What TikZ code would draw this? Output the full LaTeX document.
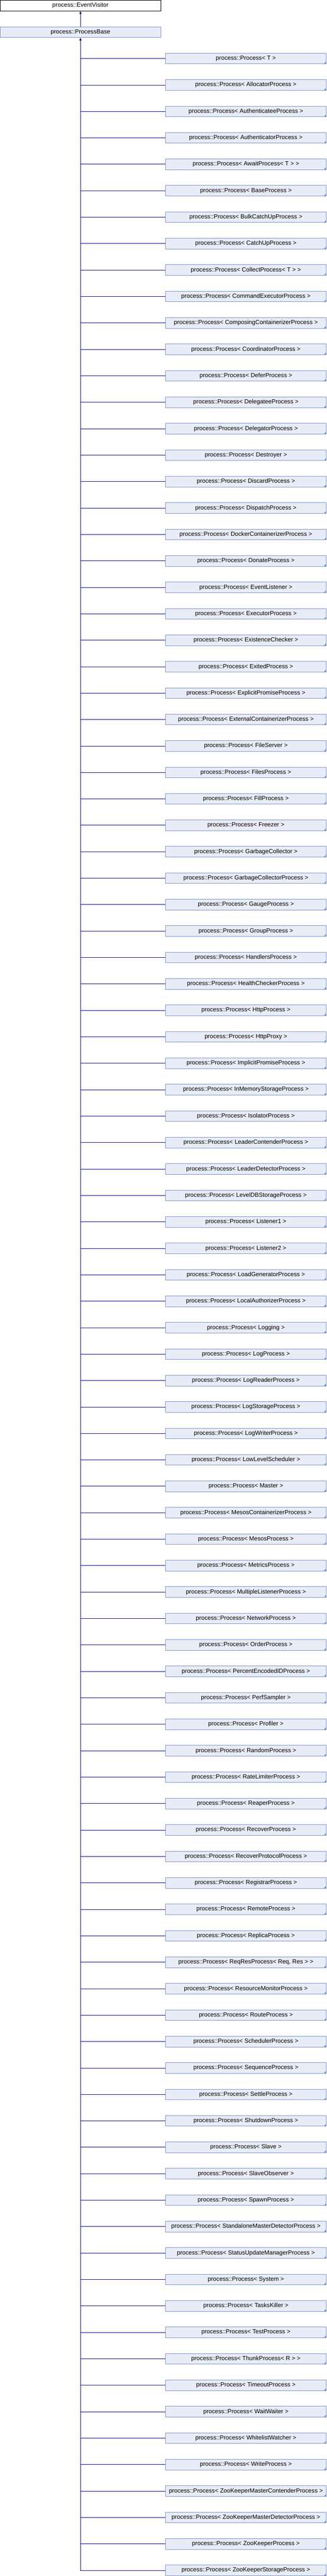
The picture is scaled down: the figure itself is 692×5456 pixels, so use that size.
\documentclass[tikz,border=0pt]{standalone}
\usepackage{fontspec}
\setmainfont{Liberation Sans}
\usetikzlibrary{arrows.meta}
\definecolor{boxfill}{HTML}{E8ECF6}
\definecolor{boxdraw}{HTML}{7F96CC}
\definecolor{linkcol}{HTML}{10108F}
\begin{document}
\begin{tikzpicture}[x=1pt,y=-1pt,
  cls/.style={draw=boxdraw, fill=boxfill, line width=1pt, minimum width=340pt,
    minimum height=22.5pt, inner sep=0pt, font=\fontsize{12.7}{14}\selectfont, text=black},
  topcls/.style={cls, draw=black, fill=white},
  link/.style={draw=linkcol, line width=1pt},
  inh/.style={link, -{Triangle[width=4.5pt,length=6pt]}}]
\useasboundingbox (0,0) rectangle (692,5456);
\fill[white] (0,0) rectangle (692,5456);
\node[topcls] (ev) at (170.5,11.75) {process::EventVisitor};
\node[cls] (pb) at (170.5,68) {process::ProcessBase};
\draw[inh] (pb.north) -- (ev.south);
\foreach \cname [count=\i from 0] in {
T,AllocatorProcess,AuthenticateeProcess,AuthenticatorProcess,{AwaitProcess< T >},
BaseProcess,BulkCatchUpProcess,CatchUpProcess,{CollectProcess< T >},CommandExecutorProcess,
ComposingContainerizerProcess,CoordinatorProcess,DeferProcess,DelegateeProcess,DelegatorProcess,
Destroyer,DiscardProcess,DispatchProcess,DockerContainerizerProcess,DonateProcess,
EventListener,ExecutorProcess,ExistenceChecker,ExitedProcess,ExplicitPromiseProcess,
ExternalContainerizerProcess,FileServer,FilesProcess,FillProcess,Freezer,
GarbageCollector,GarbageCollectorProcess,GaugeProcess,GroupProcess,HandlersProcess,
HealthCheckerProcess,HttpProcess,HttpProxy,ImplicitPromiseProcess,InMemoryStorageProcess,
IsolatorProcess,LeaderContenderProcess,LeaderDetectorProcess,LevelDBStorageProcess,Listener1,
Listener2,LoadGeneratorProcess,LocalAuthorizerProcess,Logging,LogProcess,
LogReaderProcess,LogStorageProcess,LogWriterProcess,LowLevelScheduler,Master,
MesosContainerizerProcess,MesosProcess,MetricsProcess,MultipleListenerProcess,NetworkProcess,
OrderProcess,PercentEncodedIDProcess,PerfSampler,Profiler,RandomProcess,
RateLimiterProcess,ReaperProcess,RecoverProcess,RecoverProtocolProcess,RegistrarProcess,
RemoteProcess,ReplicaProcess,{ReqResProcess< Req, Res >},ResourceMonitorProcess,RouteProcess,
SchedulerProcess,SequenceProcess,SettleProcess,ShutdownProcess,Slave,
SlaveObserver,SpawnProcess,StandaloneMasterDetectorProcess,StatusUpdateManagerProcess,System,
TasksKiller,TestProcess,{ThunkProcess< R >},TimeoutProcess,WaitWaiter,
WhitelistWatcher,WriteProcess,ZooKeeperMasterContenderProcess,ZooKeeperMasterDetectorProcess,ZooKeeperProcess,
ZooKeeperStorageProcess} {
  \node[cls] (c\i) at (521,{124+56*\i}) {process::Process< \cname{} >};
  \fill[boxdraw] (c\i.south east) -- ++(0,-6) -- ++(-6,6) -- cycle;
  \draw[link] (c\i.west) -- (c\i.west -| pb.south);
}
\coordinate (tend) at (c95.west -| pb.south);
\draw[inh] (tend) -- (pb.south);
\end{tikzpicture}
\end{document}
